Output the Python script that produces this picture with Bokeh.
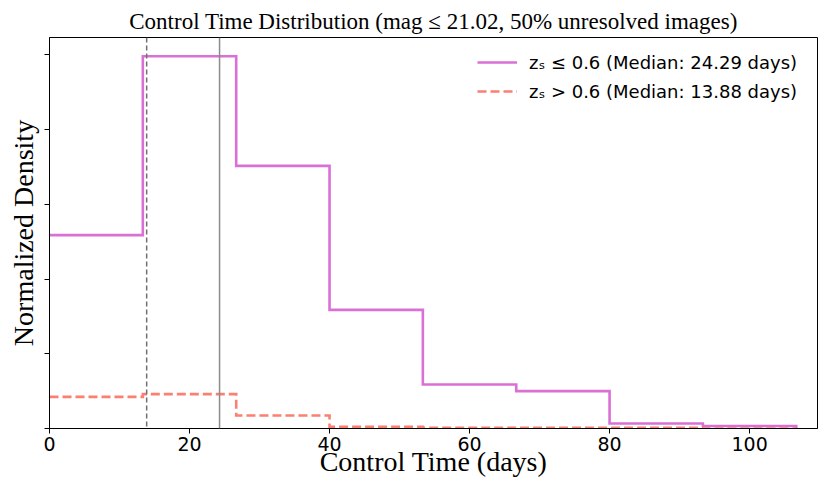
from bokeh.plotting import figure
from bokeh.models import Range1d, FixedTicker, Span, Legend, LegendItem, CustomJSTickFormatter
from bokeh.embed import file_html
from bokeh.resources import INLINE

# ---- data ----
bin_edges = [0.0, 13.33, 26.67, 40.0, 53.33, 66.67, 80.0, 93.33, 106.67]
low_z_density = [0.01294, 0.02492, 0.01758, 0.00794, 0.00294, 0.00250, 0.00033, 0.00017]
high_z_density = [0.00212, 0.00230, 0.00087, 0.00011, 0.00005, 0.00004, 0.00004, 0.0]
median_low_z = 24.29
median_high_z = 13.88
low_label = "zₛ ≤ 0.6 (Median: 24.29 days)"
high_label = "zₛ > 0.6 (Median: 13.88 days)"
x_ticks = [0, 20, 40, 60, 80, 100]
y_ticks = [0.0, 0.005, 0.010, 0.015, 0.020, 0.025]


def step_outline(edges, vals):
    # outline of a step histogram; the left rise at x=0 is hidden by the spine
    xs, ys = [], []
    for i, v in enumerate(vals):
        xs += [edges[i], edges[i + 1]]
        ys += [v, v]
    xs.append(edges[-1])
    ys.append(0.0)
    return xs, ys


p = figure(width=822, height=490, output_backend="svg", toolbar_location=None,
           x_range=Range1d(0, 109.7), y_range=Range1d(0, 0.02617),
           min_border_left=49, min_border_right=5, min_border_top=37, min_border_bottom=62)

p.title.text = "Control Time Distribution (mag ≤ 21.02, 50% unresolved images)"
p.title.text_font = "Liberation Serif"
p.title.text_font_size = "23px"
p.title.text_font_style = "normal"
p.title.text_color = "black"
p.title.align = "center"
p.title.standoff = 8

p.xgrid.visible = False
p.ygrid.visible = False
p.outline_line_color = "black"
p.outline_line_width = 1
p.background_fill_color = "white"
p.border_fill_color = "white"

# axes
p.xaxis.ticker = FixedTicker(ticks=x_ticks)
p.yaxis.ticker = FixedTicker(ticks=y_ticks)
p.yaxis.formatter = CustomJSTickFormatter(code="return ''")
for ax in (p.xaxis, p.yaxis):
    ax.minor_tick_line_color = None
    ax.major_tick_in = 0
    ax.major_tick_out = 5
    ax.axis_line_color = "black"
    ax.major_tick_line_color = "black"
    ax.major_label_text_font = "DejaVu Sans"
    ax.major_label_text_font_size = "19px"
    ax.major_label_text_color = "black"
    ax.axis_label_text_font = "Liberation Serif"
    ax.axis_label_text_font_size = "28px"
    ax.axis_label_text_font_style = "normal"
    ax.axis_label_text_color = "black"
p.xaxis.axis_label = "Control Time (days)"
p.yaxis.axis_label = "Normalized Density"
p.xaxis.major_label_standoff = 3
p.xaxis.axis_label_standoff = -8
p.yaxis.major_label_standoff = 0
p.yaxis.axis_label_standoff = 6

# median lines
p.add_layout(Span(location=median_high_z, dimension="height", line_color="#707070",
                  line_width=1.5, line_dash="5 3"))
p.add_layout(Span(location=median_low_z, dimension="height", line_color="#8c8c8c",
                  line_width=1.5))

# histograms
xs1, ys1 = step_outline(bin_edges, low_z_density)
xs2, ys2 = step_outline(bin_edges, high_z_density)
r1 = p.line(xs1, ys1, line_color="orchid", line_width=2.6, line_join="miter")
r2 = p.line(xs2, ys2, line_color="salmon", line_width=2.6, line_join="miter", line_dash="9 4")

legend = Legend(items=[LegendItem(label=low_label, renderers=[r1]),
                       LegendItem(label=high_label, renderers=[r2])],
                location=(418, 316),
                label_text_font="DejaVu Sans", label_text_font_size="18px",
                label_text_color="black",
                border_line_alpha=0, background_fill_alpha=0,
                glyph_width=40, glyph_height=22, label_height=22, label_standoff=12,
                spacing=7, padding=10, margin=0)
p.add_layout(legend)

open("out.html", "w").write(file_html(p, INLINE))
